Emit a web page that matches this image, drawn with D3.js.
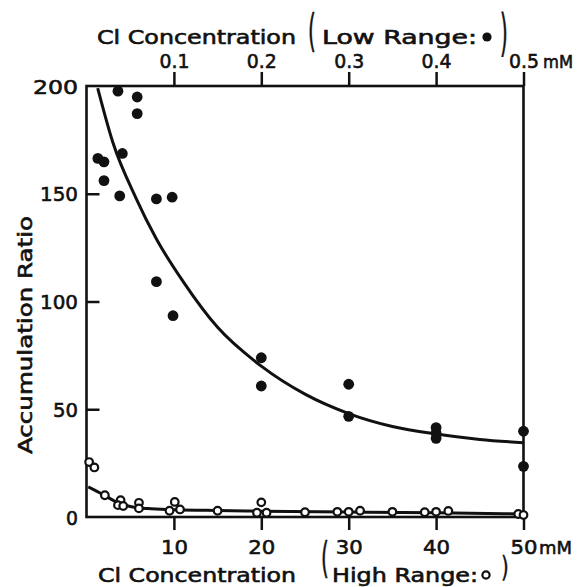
<!DOCTYPE html>
<html>
<head>
<meta charset="utf-8">
<script src="https://cdn.jsdelivr.net/npm/d3@7/dist/d3.min.js"></script>
<style>
  body { margin: 0; background: #fff; }
  text { font-family: "DejaVu Sans", sans-serif; fill: #111; stroke: #111; stroke-width: 0.6px; }
</style>
</head>
<body>
<div id="container"></div>
<script>
/* Data */
// low range (filled dots), Cl concentration in mM (top axis)
const lowX = [0.036, 0.058, 0.058, 0.013, 0.020, 0.041, 0.020, 0.038, 0.080, 0.098,
              0.080, 0.099, 0.200, 0.200, 0.300, 0.300, 0.400, 0.400, 0.400, 0.500, 0.500]
const lowY = [197.6, 194.9, 187.2, 166.4, 164.8, 168.7, 156.1, 149.0, 147.6, 148.4,
              109.2, 93.4, 73.9, 60.8, 61.6, 46.7, 41.5, 39.0, 36.5, 39.8, 23.5]
// high range (open circles), Cl concentration in mM (bottom axis)
const highX = [0.3, 0.9, 2.1, 3.9, 3.6, 4.2, 6.0, 6.0, 10.1, 9.5, 10.7, 15.0,
               20.0, 19.5, 20.6, 25.0, 28.7, 30.0, 31.3, 35.0, 38.7, 40.0, 41.4, 49.4, 50.0]
const highY = [25.5, 23.0, 10.1, 7.8, 5.5, 5.1, 6.6, 4.0, 7.0, 2.9, 3.5, 2.9,
               6.8, 2.0, 2.0, 2.2, 2.4, 2.4, 2.9, 2.4, 2.2, 2.4, 2.8, 1.4, 0.9]
// fitted curves as drawn
const lowCurveX = [0.0128, 0.03, 0.0566, 0.08, 0.111, 0.15, 0.2, 0.25, 0.3, 0.35, 0.4, 0.45, 0.5]
const lowCurveY = [199, 174, 148, 129, 109, 88, 70, 57, 48, 42, 38.5, 36, 34.5]
const highCurveX = [0.2, 2.0, 3.5, 5.0, 7.0, 10, 15, 20, 30, 40, 50]
const highCurveY = [14, 10.2, 6.8, 4.9, 3.9, 3.4, 3.0, 2.7, 2.3, 2.0, 1.4]
// tick labels
const lowTicks = [0.1, 0.2, 0.3, 0.4, 0.5]
const highTicks = [10, 20, 30, 40, 50]
const yTicks = [0, 50, 100, 150, 200]

const width = 581
const height = 587
const plotLeft = 86.5, plotRight = 523.5, plotTop = 86, plotBottom = 517

const svg = d3.select("#container").append("svg")
              .attr("width", width)
              .attr("height", height);

const xHigh = d3.scaleLinear().domain([0, 50]).range([plotLeft, plotRight]);
const xLow = d3.scaleLinear().domain([0, 0.5]).range([plotLeft, plotRight]);
const y = d3.scaleLinear().domain([0, 200]).range([plotBottom, plotTop]);

/* axes */
const topAxis = d3.axisTop(xLow).tickValues(lowTicks).tickSize(14).tickPadding(4)
                  .tickFormat(d => d.toFixed(1));
const bottomAxis = d3.axisBottom(xHigh).tickValues(highTicks).tickSize(13).tickPadding(10);
const leftAxis = d3.axisLeft(y).tickValues(yTicks).tickSize(-13).tickPadding(7);

const gTop = svg.append("g").attr("transform", "translate(0," + plotTop + ")").call(topAxis);
const gBottom = svg.append("g").attr("transform", "translate(0," + plotBottom + ")").call(bottomAxis);
const gLeft = svg.append("g").attr("transform", "translate(" + plotLeft + ",0)").call(leftAxis);

[gTop, gBottom, gLeft].forEach(g => {
  g.select(".domain").remove();
  g.selectAll("line").attr("stroke", "#111").attr("stroke-width", 2.5);
  g.selectAll("text").attr("fill", "#111").style("font-size", "20px")
   .style("font-family", "DejaVu Sans, sans-serif");
});
// wide, round lettering like the original
gTop.selectAll("text").attr("textLength", 30).attr("lengthAdjust", "spacingAndGlyphs");
gBottom.selectAll("text").attr("textLength", 27).attr("lengthAdjust", "spacingAndGlyphs");
gLeft.selectAll("text")
     .attr("text-anchor", "start")
     .attr("dy", "0.36em")
     .each(function(d) {
       const s = String(d);
       const w = s === "200" ? 45 : (s.length === 3 ? 38 : (s.length === 2 ? 25 : 12));
       d3.select(this).attr("textLength", w).attr("lengthAdjust", "spacingAndGlyphs").attr("x", -8.5 - w);
     });
// no inner ticks at 0 and 200 on the frame
gLeft.selectAll(".tick").filter(d => d === 0 || d === 200).select("line").remove();

// units
svg.append("text").attr("x", 543).attr("y", 68)
   .style("font-size", "18px").attr("textLength", 30).attr("lengthAdjust", "spacingAndGlyphs").text("mM");
svg.append("text").attr("x", 539).attr("y", 554)
   .style("font-size", "18px").attr("textLength", 33).attr("lengthAdjust", "spacingAndGlyphs").text("mM");

/* frame */
svg.append("rect").attr("x", plotLeft).attr("y", plotTop)
   .attr("width", plotRight - plotLeft).attr("height", plotBottom - plotTop)
   .attr("fill", "none").attr("stroke", "#111").attr("stroke-width", 2.6);

/* curves */
const lineLow = d3.line().x(d => xLow(d[0])).y(d => y(d[1])).curve(d3.curveMonotoneX);
const lineHigh = d3.line().x(d => xHigh(d[0])).y(d => y(d[1])).curve(d3.curveMonotoneX);
svg.append("path").datum(d3.zip(lowCurveX, lowCurveY)).attr("d", lineLow)
   .attr("fill", "none").attr("stroke", "#111").attr("stroke-width", 3);
svg.append("path").datum(d3.zip(highCurveX, highCurveY)).attr("d", lineHigh)
   .attr("fill", "none").attr("stroke", "#111").attr("stroke-width", 3);

/* points */
svg.selectAll("circle.high").data(d3.zip(highX, highY)).enter().append("circle")
   .attr("class", "high")
   .attr("cx", d => xHigh(d[0])).attr("cy", d => y(d[1])).attr("r", 3.8)
   .attr("fill", "#fff").attr("stroke", "#111").attr("stroke-width", 2.2);
svg.selectAll("circle.low").data(d3.zip(lowX, lowY)).enter().append("circle")
   .attr("class", "low")
   .attr("cx", d => xLow(d[0])).attr("cy", d => y(d[1])).attr("r", 5.4)
   .attr("fill", "#111");

/* titles */
svg.append("text").attr("x", 97).attr("y", 44).style("font-size", "19px")
   .attr("textLength", 199).attr("lengthAdjust", "spacingAndGlyphs").text("Cl Concentration");
svg.append("text").attr("transform", "translate(308,46) scale(1,2.2)")
   .style("font-size", "20px").style("stroke-width", "0.3px").text("(");
svg.append("text").attr("x", 322).attr("y", 44).style("font-size", "19px")
   .attr("textLength", 155).attr("lengthAdjust", "spacingAndGlyphs").text("Low Range:");
svg.append("circle").attr("cx", 487).attr("cy", 37).attr("r", 4.6).attr("fill", "#111");
svg.append("text").attr("transform", "translate(500,50) scale(1,2.5)")
   .style("font-size", "20px").style("stroke-width", "0.3px").text(")");

svg.append("text").attr("x", 98).attr("y", 582).style("font-size", "19px")
   .attr("textLength", 198).attr("lengthAdjust", "spacingAndGlyphs").text("Cl Concentration");
svg.append("text").attr("transform", "translate(321,573) scale(1,2.15)")
   .style("font-size", "20px").style("stroke-width", "0.3px").text("(");
svg.append("text").attr("x", 332).attr("y", 582).style("font-size", "19px")
   .attr("textLength", 146).attr("lengthAdjust", "spacingAndGlyphs").text("High Range:");
svg.append("circle").attr("cx", 486).attr("cy", 575).attr("r", 3.6)
   .attr("fill", "#fff").attr("stroke", "#111").attr("stroke-width", 2.2);
svg.append("text").attr("transform", "translate(501,577) scale(1,1.4)")
   .style("font-size", "20px").style("stroke-width", "0.3px").text(")");

svg.append("text").attr("transform", "translate(32,335) rotate(-90)")
   .attr("text-anchor", "middle").style("font-size", "19px")
   .attr("textLength", 238).attr("lengthAdjust", "spacingAndGlyphs").text("Accumulation Ratio");
</script>
</body>
</html>
